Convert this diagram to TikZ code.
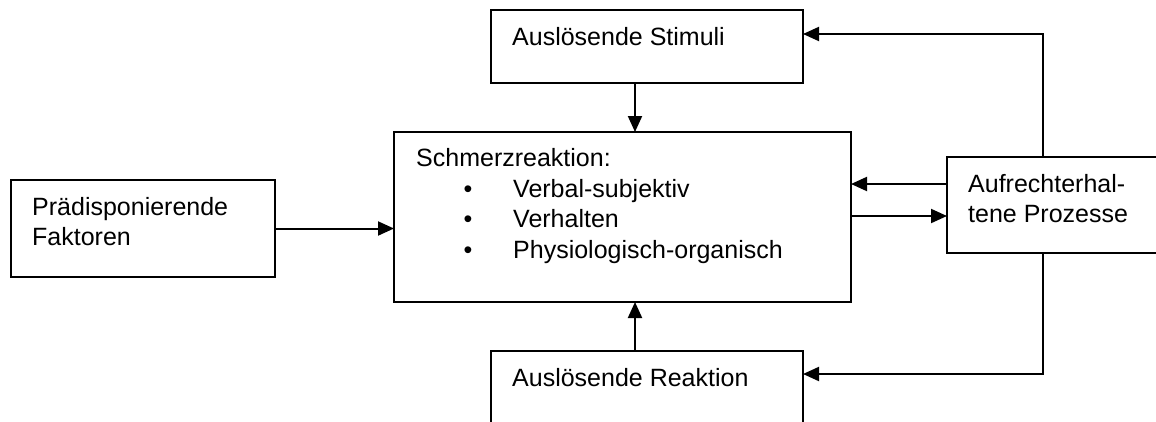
\documentclass[tikz,border=0pt]{standalone}
\usepackage{fontspec}
\setmainfont{Liberation Sans}
\usetikzlibrary{arrows.meta}
\begin{document}
\begin{tikzpicture}[x=1pt,y=-1pt,
  box/.style={draw, line width=2pt, rectangle, inner sep=0pt, outer sep=0pt},
  lbl/.style={anchor=base west, inner sep=0pt, font=\fontsize{25}{29}\selectfont},
  bul/.style={anchor=base, inner sep=0pt, font=\fontsize{25}{29}\selectfont},
  arr/.style={line width=2pt, -{Triangle[length=16pt,width=14pt]}}]
\useasboundingbox (0,0) rectangle (1156,421);
\clip (0,0) rectangle (1156,421);

% boxes
\node[box, minimum width=312pt, minimum height=73pt] (stim) at (647,46.5) {};
\node[box, minimum width=457pt, minimum height=170pt] (schmerz) at (622.5,217) {};
\node[box, minimum width=264pt, minimum height=97pt] (praed) at (143,228.5) {};
\node[box, minimum width=215pt, minimum height=96pt] (proz) at (1054.5,205) {};
\node[box, minimum width=312pt, minimum height=79pt] (reakt) at (647,390.5) {};

% texts
\node[lbl] (tstim) at (512,45) {Auslösende Stimuli};
\node[lbl] (tschmerz) at (416,166) {Schmerzreaktion:};
\node[bul] (b1) at (468,197) {•};
\node[bul] (b2) at (468,227.5) {•};
\node[bul] (b3) at (468,258) {•};
\node[lbl] (t1) at (513,197) {Verbal-subjektiv};
\node[lbl] (t2) at (513,227.5) {Verhalten};
\node[lbl] (t3) at (513,258) {Physiologisch-organisch};
\node[lbl] (tpraed1) at (32,215) {Prädisponierende};
\node[lbl] (tpraed2) at (32,245) {Faktoren};
\node[lbl] (tproz1) at (968,192) {Aufrechterhal-};
\node[lbl] (tproz2) at (968,222) {tene Prozesse};
\node[lbl] (treakt) at (512,386) {Auslösende Reaktion};

% connectors
\coordinate (stimdown) at ([xshift=-12pt]stim.south);
\coordinate (reaktup) at ([xshift=-12pt]reakt.north);
\draw[arr] (stimdown) -- (stimdown |- schmerz.north);
\draw[arr] (reaktup) -- (reaktup |- schmerz.south);
\draw[arr] (praed.east) -- (praed.east -| schmerz.west);
\draw[arr] (proz.west |- 0,184) -- (schmerz.east |- 0,184);
\draw[arr] (schmerz.east |- 0,216) -- (proz.west |- 0,216);

\coordinate (loopx) at (1043,0);
\coordinate (topy) at (0,34);
\coordinate (boty) at (0,374);
\draw[arr] (proz.north -| loopx) -- (loopx |- topy) -- (stim.east |- topy);
\draw[arr] (proz.south -| loopx) -- (loopx |- boty) -- (reakt.east |- boty);
\end{tikzpicture}
\end{document}
